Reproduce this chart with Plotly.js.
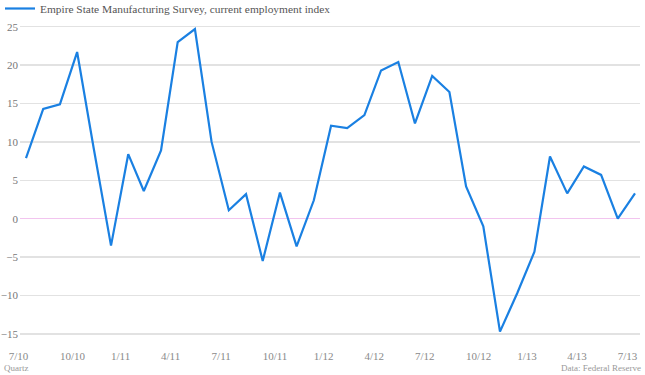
<!DOCTYPE html>
<html>
<head>
<meta charset="utf-8">
<script src="https://cdn.plot.ly/plotly-3.0.1.min.js"></script>
<style>
html,body{margin:0;padding:0;background:#fff;}
#chart{width:645px;height:375px;}
/* lift the legend into the top strip as in the reference */
#chart g.legend{transform:translate(0px,-6px);}
</style>
</head>
<body>
<div id="chart"></div>
<script>
// Monthly observations, Aug 2010 – Aug 2013
const months = [
  '2010-08-01','2010-09-01','2010-10-01','2010-11-01','2010-12-01',
  '2011-01-01','2011-02-01','2011-03-01','2011-04-01','2011-05-01','2011-06-01',
  '2011-07-01','2011-08-01','2011-09-01','2011-10-01','2011-11-01','2011-12-01',
  '2012-01-01','2012-02-01','2012-03-01','2012-04-01','2012-05-01','2012-06-01',
  '2012-07-01','2012-08-01','2012-09-01','2012-10-01','2012-11-01','2012-12-01',
  '2013-01-01','2013-02-01','2013-03-01','2013-04-01','2013-05-01','2013-06-01',
  '2013-07-01','2013-08-01'
];
const employmentIndex = [
  7.9, 14.3, 14.9, 21.7, 9.1,
  -3.5, 8.4, 3.6, 8.9, 23.0, 24.7,
  10.0, 1.1, 3.2, -5.5, 3.4, -3.6,
  2.4, 12.1, 11.8, 13.5, 19.3, 20.4,
  12.4, 18.6, 16.5, 4.2, -1.0, -14.7,
  -9.7, -4.3, 8.1, 3.3, 6.8, 5.7,
  0.0, 3.3
];
const seriesName = 'Empire State Manufacturing Survey, current employment index';
const tickDates = ['2010-07-01','2010-10-01','2011-01-01','2011-04-01','2011-07-01','2011-10-01',
  '2012-01-01','2012-04-01','2012-07-01','2012-10-01','2013-01-01','2013-04-01','2013-07-01'];
const tickLabels = ['7/10','10/10','1/11','4/11','7/11','10/11','1/12','4/12','7/12','10/12','1/13','4/13','7/13'];
const yTicks = [-15, -10, -5, 0, 5, 10, 15, 20, 25];
const sourceText = 'Data: Federal Reserve';
const creditText = 'Quartz';

// ---- layout geometry ----
const W = 645, H = 375;
const t0 = Date.parse(months[0]), t1 = Date.parse(months[months.length - 1]);
const pxFirst = 26, pxLast = 635, plotLeft = 20, plotRight = 640, wideLeft = 0;
const msPerPx = (t1 - t0) / (pxLast - pxFirst);
const fmt = ms => new Date(ms).toISOString().replace('T', ' ').replace('Z', '');
const range2 = [fmt(t0 - (pxFirst - plotLeft) * msPerPx), fmt(t1 + (plotRight - pxLast) * msPerPx)];
const range1 = [fmt(t0 - (pxFirst - wideLeft) * msPerPx), fmt(t1 + (plotRight - pxLast) * msPerPx)];
const plotTop = 20, plotBottom = 340;
const zeroPx = 218.7, pxPerUnit = 7.68;
const yRange = [(zeroPx - plotBottom) / pxPerUnit, (zeroPx - plotTop) / pxPerUnit];
const yDomain = [1 - plotBottom / H, 1 - plotTop / H];

const serif = 'Liberation Serif, DejaVu Serif, serif';

// invisible carrier trace so the wide (label-only) x axis is drawn
const labelCarrier = {
  x: months, y: employmentIndex, type: 'scatter', mode: 'lines',
  xaxis: 'x', yaxis: 'y', showlegend: false, opacity: 0,
  line: {width: 0}, hoverinfo: 'skip'
};

const trace = {
  x: months, y: employmentIndex, type: 'scatter', mode: 'lines',
  name: seriesName, xaxis: 'x2', yaxis: 'y2',
  line: {color: '#1a80e2', width: 2.2},
  hoverinfo: 'skip'
};

const layout = {
  width: W, height: H,
  margin: {l: 0, r: 0, t: 0, b: 0, pad: 0},
  paper_bgcolor: '#ffffff', plot_bgcolor: 'rgba(0,0,0,0)',
  showlegend: true,
  legend: {
    x: 0.0, y: 1.0, xanchor: 'left', yanchor: 'top', orientation: 'h',
    font: {family: serif, size: 11.4, color: '#555555'},
    bgcolor: 'rgba(0,0,0,0)', borderwidth: 0, itemwidth: 30
  },
  xaxis: {
    type: 'date', domain: [wideLeft / W, plotRight / W], range: range1, anchor: 'y',
    showgrid: false, zeroline: false, showline: false, ticks: '',
    tickmode: 'array', tickvals: tickDates, ticktext: tickLabels,
    ticklabelposition: 'outside right', ticklabelstandoff: 8,
    tickfont: {family: serif, size: 11, color: '#8a8a8a'}
  },
  yaxis: {domain: yDomain, range: yRange, anchor: 'x', showticklabels: false, showgrid: false, zeroline: false, showline: false, ticks: ''},
  xaxis2: {type: 'date', domain: [plotLeft / W, plotRight / W], range: range2, anchor: 'y2', visible: false, showgrid: false, zeroline: false},
  yaxis2: {
    domain: yDomain, range: yRange, anchor: 'x2',
    showgrid: true, gridcolor: '#e2e2e2', gridwidth: 1.5,
    zeroline: true, zerolinecolor: '#f2c4ef', zerolinewidth: 1.5,
    showline: false, ticks: '', tickmode: 'array', tickvals: yTicks,
    ticklabelstandoff: 1,
    tickfont: {family: serif, size: 11, color: '#777777'}
  },
  annotations: [
    {text: creditText, xref: 'paper', yref: 'paper', x: 2 / W, y: 0, xanchor: 'left', yanchor: 'bottom',
     showarrow: false, font: {family: serif, size: 9, color: '#999999'}},
    {text: sourceText, xref: 'paper', yref: 'paper', x: 643 / W, y: 0, xanchor: 'right', yanchor: 'bottom',
     showarrow: false, font: {family: serif, size: 9, color: '#999999'}}
  ]
};

Plotly.newPlot('chart', [labelCarrier, trace], layout, {staticPlot: true, displayModeBar: false});
</script>
</body>
</html>
